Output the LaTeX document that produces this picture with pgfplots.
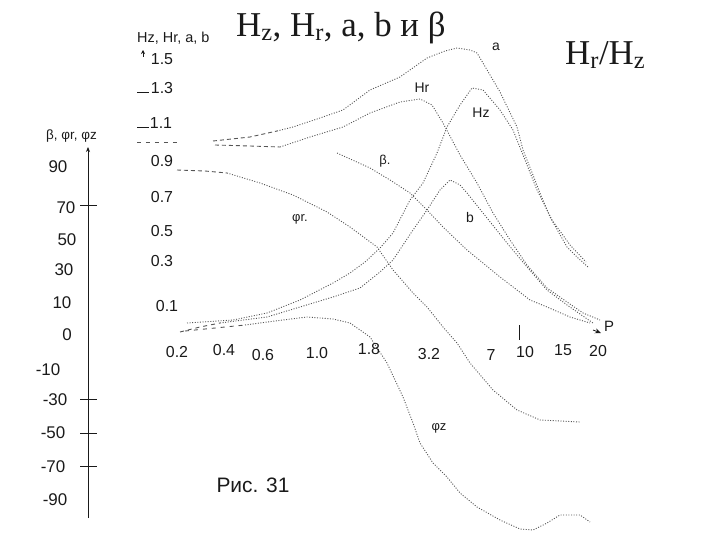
\documentclass[border=0pt]{standalone}
\usepackage{fontspec}
\setmainfont{Liberation Sans}
\newfontfamily\serif{Liberation Serif}
\usepackage{pgfplots}
\pgfplotsset{compat=1.18}
\usetikzlibrary{arrows.meta}
\definecolor{ink}{HTML}{1A1A1A}
\definecolor{crv}{HTML}{555555}
\tikzset{lbl/.style={text=ink, inner sep=0pt}}
\pgfplotsset{cv/.style={crv, line width=0.9pt, dash pattern=on 1pt off 1.6pt, no markers},
  cvd/.style={crv, line width=0.9pt, no markers}}
\begin{document}
\begin{tikzpicture}
\begin{axis}[scale only axis, width=720bp, height=540bp,
  xmin=0, xmax=720, ymin=0, ymax=540, y dir=reverse,
  axis lines=none, clip=false]
% ---------- axes pieces ----------
\addplot[ink, solid, line width=0.8pt, -{Stealth[length=5pt,width=4pt]}] coordinates {(88,518) (88,147)};
\addplot[ink, solid, line width=0.8pt] coordinates {(80,205) (97,205)};
\addplot[ink, solid, line width=0.8pt] coordinates {(80,399) (97,399)};
\addplot[ink, solid, line width=0.8pt] coordinates {(80,433) (97,433)};
\addplot[ink, solid, line width=0.8pt] coordinates {(80,466) (97,466)};
\addplot[ink, solid, line width=0.8pt, -{Stealth[length=4pt,width=4pt]}] coordinates {(143,57) (143,50)};
\addplot[ink, solid, line width=0.8pt] coordinates {(137,92) (149,92)};
\addplot[ink, solid, line width=0.8pt] coordinates {(137,127) (149,127)};
\addplot[ink, solid, line width=0.8pt] coordinates {(519,325) (519,340)};
\addplot[ink, solid, line width=0.8pt, -{Stealth[length=6pt,width=5pt]}] coordinates {(593,330) (601,333)};
% ---------- curve a ----------
\addplot[cvd, dash pattern=on 4pt off 5pt] coordinates {(137,142) (180,142)};
\addplot[cvd, dash pattern=on 4pt off 3pt] coordinates {(213,141) (250,137) (277,131)};
\addplot[cv] coordinates {(277,131) (293,127) (320,118) (343,110) (370,90) (400,77) (427,58) (445,51) (457,48) (470,50) (477,53) (483,63) (500,92) (517,127) (523,150) (533,175) (540,193) (550,217) (567,247) (577,257) (588,267)};
% ---------- curve Hr ----------
\addplot[cvd, dash pattern=on 4pt off 3pt] coordinates {(215,145) (250,146) (280,147)};
\addplot[cv] coordinates {(280,147) (310,137) (343,127) (370,113) (400,102) (420,99) (432,105) (443,123) (460,155) (477,183) (493,213) (510,240) (527,265) (547,288) (567,302) (583,313) (600,320)};
% ---------- curve Hz ----------
\addplot[cv] coordinates {(187,323) (233,320) (267,313) (300,300) (333,283) (350,273) (365,262) (380,248) (393,233) (410,200) (423,183) (437,153) (447,127) (460,105) (472,88) (483,90) (500,110) (513,130) (525,160) (537,190) (552,220) (570,245) (586,262)};
% ---------- curve b ----------
\addplot[cvd, dash pattern=on 4pt off 4pt] coordinates {(180,332) (200,327) (220,323)};
\addplot[cv] coordinates {(220,323) (267,317) (300,307) (333,297) (360,288) (380,272) (393,260) (413,230) (427,210) (440,190) (450,180) (460,185) (467,193) (483,213) (507,243) (527,267) (547,290) (567,305) (593,323)};
% ---------- curve beta ----------
\addplot[cv] coordinates {(337,153) (370,168) (390,180) (410,193) (427,210) (443,227) (467,250) (483,263) (500,277) (517,290) (530,300) (547,307) (570,317) (590,323)};
% ---------- curve phi_r ----------
\addplot[cvd, dash pattern=on 4pt off 3pt] coordinates {(177,170) (205,171) (227,173)};
\addplot[cv] coordinates {(227,173) (260,183) (293,195) (307,202) (327,212) (350,227) (377,247) (393,270) (413,293) (427,307) (443,327) (457,343) (470,363) (493,390) (517,410) (540,420) (580,422)};
% ---------- curve phi_z ----------
\addplot[cvd, dash pattern=on 4pt off 5pt] coordinates {(185,331) (215,328) (245,325)};
\addplot[cv] coordinates {(245,325) (275,321) (307,317) (333,319) (350,323) (360,330) (370,337) (387,363) (403,397) (413,423) (420,443) (433,463) (447,477) (460,493) (477,507) (500,520) (520,529) (533,530) (547,523) (560,515) (580,515) (590,522)};
% ---------- texts ----------
\node[lbl, anchor=base west, font=\serif\fontsize{35}{37}\selectfont] at (axis cs:236,37) {H\textsubscript{z}, H\textsubscript{r}, a, b и β};
\node[lbl, anchor=base west, font=\serif\fontsize{35}{38}\selectfont] at (axis cs:565,65) {H\textsubscript{r}/H\textsubscript{z}};
\node[lbl, anchor=base west, font=\fontsize{14.5}{15}\selectfont] at (axis cs:137,43) {Hz, Hr, a, b};
\node[lbl, anchor=base west, font=\fontsize{13.5}{14}\selectfont] at (axis cs:46,140) {β, φr, φz};
\node[lbl, font=\fontsize{21}{22}\selectfont] at (axis cs:253,485) {Рис. 31};
% H labels
\node[lbl, font=\fontsize{16}{17}\selectfont] at (axis cs:162,59) {1.5};
\node[lbl, font=\fontsize{16}{17}\selectfont] at (axis cs:162,88) {1.3};
\node[lbl, font=\fontsize{16}{17}\selectfont] at (axis cs:161,123) {1.1};
\node[lbl, font=\fontsize{16}{17}\selectfont] at (axis cs:162,161) {0.9};
\node[lbl, font=\fontsize{16}{17}\selectfont] at (axis cs:162,197) {0.7};
\node[lbl, font=\fontsize{16}{17}\selectfont] at (axis cs:162,231) {0.5};
\node[lbl, font=\fontsize{16}{17}\selectfont] at (axis cs:162,261) {0.3};
\node[lbl, font=\fontsize{16}{17}\selectfont] at (axis cs:167,306) {0.1};
% angle labels
\node[lbl, font=\fontsize{17}{18}\selectfont] at (axis cs:58,167) {90};
\node[lbl, font=\fontsize{17}{18}\selectfont] at (axis cs:66,208) {70};
\node[lbl, font=\fontsize{17}{18}\selectfont] at (axis cs:67,240) {50};
\node[lbl, font=\fontsize{17}{18}\selectfont] at (axis cs:64,270) {30};
\node[lbl, font=\fontsize{17}{18}\selectfont] at (axis cs:62,303) {10};
\node[lbl, font=\fontsize{17}{18}\selectfont] at (axis cs:67,335) {0};
\node[lbl, font=\fontsize{17}{18}\selectfont] at (axis cs:48,370) {-10};
\node[lbl, font=\fontsize{17}{18}\selectfont] at (axis cs:55,400) {-30};
\node[lbl, font=\fontsize{17}{18}\selectfont] at (axis cs:53,433) {-50};
\node[lbl, font=\fontsize{17}{18}\selectfont] at (axis cs:53,467) {-70};
\node[lbl, font=\fontsize{17}{18}\selectfont] at (axis cs:55,500) {-90};
% x labels
\node[lbl, font=\fontsize{16}{17}\selectfont] at (axis cs:177,352) {0.2};
\node[lbl, font=\fontsize{16}{17}\selectfont] at (axis cs:224,350) {0.4};
\node[lbl, font=\fontsize{16}{17}\selectfont] at (axis cs:263,355) {0.6};
\node[lbl, font=\fontsize{16}{17}\selectfont] at (axis cs:317,353) {1.0};
\node[lbl, font=\fontsize{16}{17}\selectfont] at (axis cs:369,349) {1.8};
\node[lbl, font=\fontsize{16}{17}\selectfont] at (axis cs:429,354) {3.2};
\node[lbl, font=\fontsize{16}{17}\selectfont] at (axis cs:491,355) {7};
\node[lbl, font=\fontsize{16}{17}\selectfont] at (axis cs:525,352) {10};
\node[lbl, font=\fontsize{16}{17}\selectfont] at (axis cs:563,350) {15};
\node[lbl, font=\fontsize{16}{17}\selectfont] at (axis cs:598,351) {20};
% curve labels
\node[lbl, font=\fontsize{14}{15}\selectfont] at (axis cs:496,47) {a};
\node[lbl, font=\fontsize{14}{15}\selectfont] at (axis cs:422,88) {Hr};
\node[lbl, font=\fontsize{14}{15}\selectfont] at (axis cs:481,113) {Hz};
\node[lbl, font=\fontsize{13}{14}\selectfont] at (axis cs:385,161) {β.};
\node[lbl, font=\fontsize{13}{14}\selectfont] at (axis cs:300,219) {φr.};
\node[lbl, font=\fontsize{14}{15}\selectfont] at (axis cs:470,218) {b};
\node[lbl, font=\fontsize{13}{14}\selectfont] at (axis cs:439,428) {φz};
\node[lbl, font=\fontsize{15}{16}\selectfont] at (axis cs:609,326) {P};
\end{axis}
\path (current axis.south west) rectangle (current axis.north east);
\end{tikzpicture}
\end{document}
